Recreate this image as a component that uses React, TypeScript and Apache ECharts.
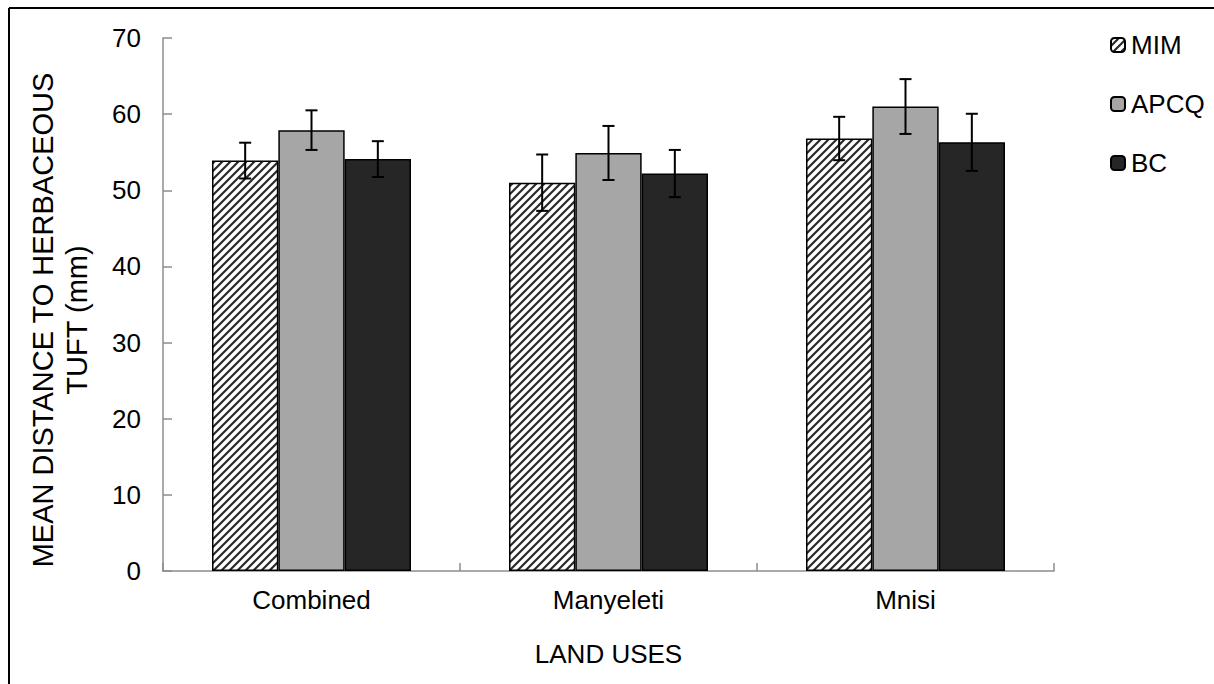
import React, { useEffect, useRef } from "react";
import * as echarts from "echarts";

const categories = ["Combined", "Manyeleti", "Mnisi"];
const seriesNames = ["MIM", "APCQ", "BC"];
const mimValues = [53.9, 51.0, 56.8];
const apcqValues = [57.9, 54.9, 61.0];
const bcValues = [54.1, 52.2, 56.3];
const mimErrors = [2.35, 3.7, 2.85];
const apcqErrors = [2.6, 3.55, 3.6];
const bcErrors = [2.35, 3.1, 3.75];
const yTicks = { min: 0, max: 70, interval: 10 };

const FONT = "'Liberation Sans', Arial, sans-serif";
const CAT_GAP = 0.33;

function makeHatch(): HTMLCanvasElement {
  const c = document.createElement("canvas");
  c.width = 8;
  c.height = 8;
  const ctx = c.getContext("2d")!;
  ctx.fillStyle = "#ffffff";
  ctx.fillRect(0, 0, 8, 8);
  ctx.strokeStyle = "#2a2a2a";
  ctx.lineWidth = 2.2;
  ctx.beginPath();
  ctx.moveTo(-4, 4); ctx.lineTo(4, -4);
  ctx.moveTo(0, 8); ctx.lineTo(8, 0);
  ctx.moveTo(4, 12); ctx.lineTo(12, 4);
  ctx.stroke();
  return c;
}

export default function App() {
  const ref = useRef<HTMLDivElement>(null);
  useEffect(() => {
    if (!ref.current) return;
    const chart = echarts.init(ref.current, undefined, { renderer: "svg" });
    const hatch = makeHatch();
    const values = [mimValues, apcqValues, bcValues];
    const errors = [mimErrors, apcqErrors, bcErrors];
    const colors: any[] = [
      { image: hatch, repeat: "repeat" },
      "#a6a6a6",
      "#262626",
    ];
    const barSeries = seriesNames.map((name, i) => ({
      name,
      type: "bar",
      data: values[i],
      barGap: "0%",
      barCategoryGap: CAT_GAP * 100 + "%",
      itemStyle: { color: colors[i], borderColor: "#000", borderWidth: 1.5 },
      z: 2,
    }));
    const errSeries = seriesNames.map((name, s) => ({
      name: name + " error",
      type: "custom",
      z: 5,
      silent: true,
      data: categories.map((_, k) => [k, values[s][k], errors[s][k]]),
      encode: { x: 0, y: 1 },
      renderItem: (params: any, api: any) => {
        const k = api.value(0);
        const v = api.value(1);
        const e = api.value(2);
        const center = api.coord([k, v]);
        const catW = api.size([1, 0])[0];
        const band = catW * (1 - CAT_GAP);
        const bw = band / 3;
        const x = center[0] - band / 2 + bw * (s + 0.5);
        const yt = api.coord([k, v + e])[1];
        const yb = api.coord([k, v - e])[1];
        const style = { stroke: "#000", lineWidth: 2 };
        return {
          type: "group",
          children: [
            { type: "line", shape: { x1: x, y1: yt, x2: x, y2: yb }, style },
            { type: "line", shape: { x1: x - 6, y1: yt, x2: x + 6, y2: yt }, style },
            { type: "line", shape: { x1: x - 6, y1: yb, x2: x + 6, y2: yb }, style },
          ],
        };
      },
    }));
    chart.setOption({
      animation: false,
      backgroundColor: "#fff",
      textStyle: { fontFamily: FONT },
      grid: { left: 163, right: 160, top: 38, bottom: 113 },
      legend: {
        data: seriesNames,
        orient: "vertical",
        left: 1105,
        top: 27,
        itemWidth: 14,
        itemHeight: 14,
        itemGap: 33,
        textStyle: { fontSize: 26, color: "#000", fontFamily: FONT, padding: [0, 0, 0, 1] },
      },
      xAxis: {
        type: "category",
        data: categories,
        name: "LAND USES",
        nameLocation: "middle",
        nameGap: 70,
        nameTextStyle: { fontSize: 26, color: "#000", fontFamily: FONT },
        axisLine: { lineStyle: { color: "#8c8c8c", width: 1.5 } },
        axisTick: { show: true, inside: true, length: 8, interval: 0, lineStyle: { color: "#8c8c8c", width: 1.5 } },
        axisLabel: { fontSize: 26, color: "#000", margin: 16, fontFamily: FONT },
      },
      yAxis: {
        type: "value",
        min: yTicks.min,
        max: yTicks.max,
        interval: yTicks.interval,
        axisLine: { show: true, lineStyle: { color: "#8c8c8c", width: 1.5 } },
        axisTick: { show: true, inside: true, length: 9, lineStyle: { color: "#8c8c8c", width: 1.5 } },
        axisLabel: { fontSize: 26, color: "#000", margin: 22, fontFamily: FONT },
        splitLine: { show: false },
      },
      graphic: [
        {
          type: "text",
          x: 60,
          y: 320,
          rotation: Math.PI / 2,
          style: {
            text: "MEAN DISTANCE TO HERBACEOUS\nTUFT (mm)",
            fontSize: 29,
            fontFamily: FONT,
            fill: "#000",
            align: "center",
            verticalAlign: "middle",
            lineHeight: 34,
          },
        },
        { type: "line", shape: { x1: 9, y1: 8, x2: 1214, y2: 8 }, style: { stroke: "#000", lineWidth: 2 } },
        { type: "line", shape: { x1: 9, y1: 8, x2: 9, y2: 684 }, style: { stroke: "#000", lineWidth: 2 } },
      ],
      series: [...barSeries, ...errSeries],
    });
    return () => chart.dispose();
  }, []);
  return (
    <div
      ref={ref}
      style={{ position: "fixed", left: 0, top: 0, width: 1214, height: 684 }}
    />
  );
}
